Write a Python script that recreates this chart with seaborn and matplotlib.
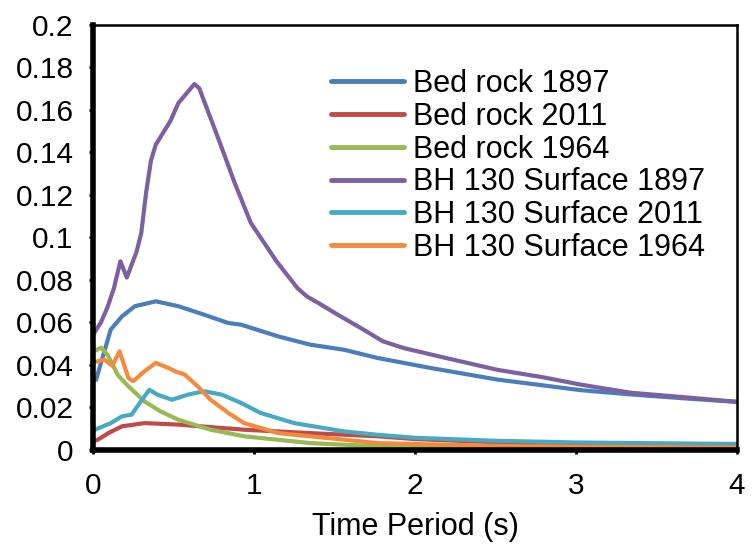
import matplotlib
matplotlib.use("Agg")
import matplotlib.pyplot as plt
import seaborn as sns
import pandas as pd

series_names = ["Bed rock 1897", "Bed rock 2011", "Bed rock 1964",
                "BH 130 Surface 1897", "BH 130 Surface 2011", "BH 130 Surface 1964"]
colors = ["#4A7EBB", "#BE4B48", "#98B954", "#7D60A0", "#46AAC5", "#F38A3E"]

bed1897_x = [0.0, 0.02, 0.05, 0.11, 0.18, 0.26, 0.39, 0.53, 0.69, 0.84, 0.92, 1.15, 1.35, 1.56, 1.77, 2.1, 2.51, 3.03, 3.34, 3.7, 4.0]
bed1897_y = [0.032, 0.033, 0.041, 0.0565, 0.0627, 0.0675, 0.0698, 0.0675, 0.0635, 0.0596, 0.0588, 0.0533, 0.0494, 0.047, 0.0431, 0.0384, 0.033, 0.028, 0.026, 0.024, 0.0225]

bed2011_x = [0.0, 0.03, 0.1, 0.18, 0.32, 0.53, 0.94, 1.35, 1.77, 2.0, 2.5, 3.0, 4.0]
bed2011_y = [0.004, 0.0047, 0.008, 0.011, 0.0125, 0.0118, 0.0094, 0.0078, 0.0063, 0.005, 0.0035, 0.0025, 0.0015]

bed1964_x = [0.0, 0.05, 0.09, 0.155, 0.22, 0.32, 0.42, 0.53, 0.73, 0.94, 1.35, 1.77, 2.5, 4.0]
bed1964_y = [0.046, 0.048, 0.0447, 0.035, 0.0298, 0.0227, 0.018, 0.0141, 0.0094, 0.0063, 0.0031, 0.0016, 0.0008, 0.0004]

bh1897_x = [0.0, 0.05, 0.09, 0.13, 0.17, 0.21, 0.27, 0.30, 0.33, 0.36, 0.39, 0.48, 0.53, 0.63, 0.66, 0.78, 0.88, 0.98, 1.14, 1.27, 1.33, 1.40, 1.52, 1.68, 1.80, 1.93, 2.2, 2.51, 2.8, 3.03, 3.34, 3.7, 4.0]
bh1897_y = [0.054, 0.060, 0.067, 0.076, 0.0886, 0.081, 0.093, 0.102, 0.121, 0.136, 0.1435, 0.1545, 0.163, 0.172, 0.170, 0.146, 0.1255, 0.1067, 0.0886, 0.076, 0.072, 0.069, 0.0635, 0.0565, 0.051, 0.0478, 0.043, 0.0376, 0.034, 0.0306, 0.0268, 0.0245, 0.0225]

bh2011_x = [0.0, 0.11, 0.18, 0.24, 0.29, 0.35, 0.40, 0.49, 0.59, 0.69, 0.80, 0.92, 1.04, 1.25, 1.56, 1.77, 2.0, 2.5, 3.0, 4.0]
bh2011_y = [0.009, 0.0125, 0.0157, 0.0165, 0.022, 0.0282, 0.0259, 0.0235, 0.0259, 0.0275, 0.0259, 0.022, 0.0173, 0.0125, 0.0086, 0.007, 0.0056, 0.0042, 0.0034, 0.0027]

bh1964_x = [0.0, 0.07, 0.12, 0.165, 0.22, 0.25, 0.32, 0.39, 0.47, 0.51, 0.57, 0.65, 0.73, 0.84, 0.94, 1.15, 1.56, 1.77, 2.5, 3.0, 4.0]
bh1964_y = [0.041, 0.0424, 0.0395, 0.0463, 0.0337, 0.0322, 0.0369, 0.0408, 0.0384, 0.0369, 0.0353, 0.0298, 0.0235, 0.0173, 0.0125, 0.0078, 0.0047, 0.0031, 0.0018, 0.0014, 0.001]

y_ticks = [0, 0.02, 0.04, 0.06, 0.08, 0.1, 0.12, 0.14, 0.16, 0.18, 0.2]
y_tick_labels = ["0", "0.02", "0.04", "0.06", "0.08", "0.1", "0.12", "0.14", "0.16", "0.18", "0.2"]
x_ticks = [0, 1, 2, 3, 4]
x_tick_labels = ["0", "1", "2", "3", "4"]

xs = [bed1897_x, bed2011_x, bed1964_x, bh1897_x, bh2011_x, bh1964_x]
ys = [bed1897_y, bed2011_y, bed1964_y, bh1897_y, bh2011_y, bh1964_y]
frames = []
for name, x, y in zip(series_names, xs, ys):
    frames.append(pd.DataFrame({"Period": x, "Value": y, "Series": name}))
df = pd.concat(frames, ignore_index=True)

sns.set_style("ticks")
plt.rcParams["font.family"] = ["Liberation Sans", "DejaVu Sans"]
plt.rcParams["text.color"] = "black"
plt.rcParams["axes.labelcolor"] = "black"

fig = plt.figure(figsize=(7.52, 5.45), dpi=100)
ax = fig.add_axes([93/752, 1-449.7/545, (737-93)/752, (449.7-24.5)/545])

sns.lineplot(data=df, x="Period", y="Value", hue="Series", hue_order=series_names,
             palette=colors, sort=False, estimator=None, linewidth=3, ax=ax)

ax.set_xlim(0, 4)
ax.set_ylim(0, 0.2)
ax.set_xticks(x_ticks)
ax.set_xticklabels(x_tick_labels)
ax.set_yticks(y_ticks)
ax.set_yticklabels(y_tick_labels)
ax.tick_params(axis="both", direction="out", length=3, width=2, labelsize=21.5,
               colors="black")
ax.tick_params(axis="x", pad=13)
ax.tick_params(axis="y", pad=11)
ax.set_xlabel("Time Period (s)", fontsize=22, labelpad=9, color="black")
ax.set_ylabel("")

for side in ["left", "bottom"]:
    ax.spines[side].set_linewidth(4)
    ax.spines[side].set_color("black")
for side in ["top", "right"]:
    ax.spines[side].set_visible(True)
    ax.spines[side].set_linewidth(1.8)
    ax.spines[side].set_color("black")

leg = ax.legend(loc="upper left", bbox_to_anchor=(331/752, 1-69/545),
                bbox_transform=fig.transFigure, frameon=False, fontsize=22,
                handlelength=2.4, handletextpad=0.28, labelspacing=0.09,
                borderpad=0, borderaxespad=0)
for text in leg.get_texts():
    text.set_color("black")
for line in leg.get_lines():
    line.set_linewidth(3.5)

fig.savefig("out.png", dpi=100)
